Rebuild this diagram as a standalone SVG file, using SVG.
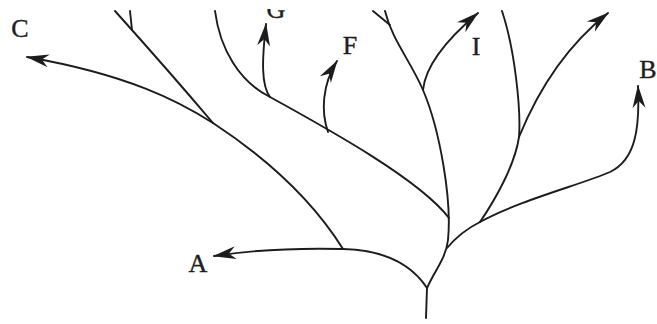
<svg xmlns="http://www.w3.org/2000/svg" width="657" height="324" viewBox="0 0 657 324">
<style>
.br{fill:none;stroke:#1c1c1c;stroke-width:1.9;stroke-linecap:round}
.arr{marker-end:url(#ah)}
.lbl{font-family:"Liberation Serif","Times New Roman",serif;font-size:26px;fill:#1e1e1e;stroke:#1e1e1e;stroke-width:0.4;text-anchor:middle}
</style>
<defs>
<marker id="ah" markerUnits="userSpaceOnUse" viewBox="-24 -10 30 20" markerWidth="30" markerHeight="20" refX="0" refY="0" orient="auto">
<path d="M1,0 L-22,-6.5 L-15,0 L-22,6.5 Z" fill="#1c1c1c"/>
</marker>
<clipPath id="topcut"><rect x="0" y="9" width="657" height="315"/></clipPath>
</defs>
<rect width="657" height="324" fill="#fff"/>
<g id="connectors">
<path class="br" d="M426,318 L427,288"/>
<path class="br arr" d="M427,288 C410,262 380,250 343,249 C300,248 252,250 214,256"/>
<path class="br" d="M343,249 Q300,180 213,123"/>
<path class="br" d="M213,123 C185,90 150,50 115,11"/>
<path class="br" d="M130,11 L132,30"/>
<path class="br arr" d="M213,123 C180,102 130,75 27,57"/>
<path class="br" d="M215,11 C220,50 240,82 270,97 C330,130 420,180 449,218"/>
<path class="br arr" d="M270,97 C261,85 262,60 266,24"/>
<path class="br arr" d="M328,132 C321,112 322,85 337,61"/>
<path class="br" d="M427,288 C435,270 446,258 448,240 C452,200 440,130 423,90 C410,60 392,40 385,11"/>
<path class="br" d="M373,11 L390,25"/>
<path class="br arr" d="M423,90 C425,70 440,45 478,13"/>
<path class="br" d="M447,248 C458,235 468,228 480,222"/>
<path class="br" d="M480,222 C495,200 515,165 519,137 C521,110 515,50 502,11"/>
<path class="br arr" d="M519,137 C530,110 555,55 608,13"/>
<path class="br arr" d="M480,222 C520,200 580,185 610,172 C635,160 640,130 638,86"/>
</g>
<g id="node-C"><text class="lbl" x="20" y="37">C</text></g>
<g id="node-G" clip-path="url(#topcut)"><text class="lbl" x="276" y="18">G</text></g>
<g id="node-F"><text class="lbl" x="350" y="54">F</text></g>
<g id="node-I"><text class="lbl" x="476" y="55">I</text></g>
<g id="node-B"><text class="lbl" x="648" y="78">B</text></g>
<g id="node-A"><text class="lbl" x="198" y="272">A</text></g>
</svg>
